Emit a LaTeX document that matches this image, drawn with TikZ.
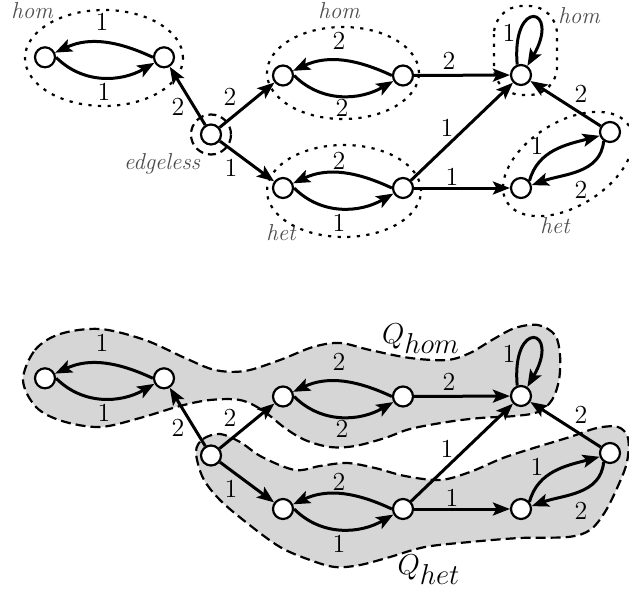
\documentclass[tikz,border=0pt]{standalone}
\usetikzlibrary{arrows.meta}
\newcommand\mygraph{%
  \node[vtx] (A) at (45,57.3) {};
  \node[vtx] (B) at (164,57.3) {};
  \node[vtx] (E) at (211,134.5) {};
  \node[vtx] (C1) at (283,75.5) {};
  \node[vtx] (C2) at (403,75.5) {};
  \node[vtx] (D1) at (283,188) {};
  \node[vtx] (D2) at (403,188) {};
  \node[vtx] (F) at (521,75) {};
  \node[vtx] (G) at (610,132) {};
  \node[vtx] (H) at (521,188) {};
  \draw[arr] (A.east) to[out=-45,in=210] (B.210);
  \draw[arr] (B.west) to[out=155,in=25] (A.25);
  \node[lbl] (lab) at (104,92) {1};
  \node[lbl] (lba) at (102,22) {1};
  \draw[arr] (E) -- (B);
  \node[lbl] (leb) at (178,107) {2};
  \draw[arr] (E) -- (C1);
  \node[lbl] (lec) at (230,97) {2};
  \draw[arr] (E) -- (D1);
  \node[lbl] (led) at (231,168) {1};
  \draw[arr] (C1.east) to[out=-45,in=210] (C2.210);
  \draw[arr] (C2.west) to[out=155,in=25] (C1.25);
  \node[lbl] (lcc1) at (339,41) {2};
  \node[lbl] (lcc2) at (342,108) {2};
  \draw[arr] (D1.east) to[out=-45,in=210] (D2.210);
  \draw[arr] (D2.west) to[out=155,in=25] (D1.25);
  \node[lbl] (ldd1) at (339,161) {2};
  \node[lbl] (ldd2) at (339,223) {1};
  \draw[arr] (C2) -- (F);
  \node[lbl] (lcf) at (449,61) {2};
  \draw[arr] (D2) -- (F);
  \node[lbl] (ldf) at (447,128) {1};
  \draw[arr] (D2) -- (H);
  \node[lbl] (ldh) at (452,177) {1};
  \draw[arr] (G) -- (F);
  \node[lbl] (lgf) at (581,94) {2};
  \draw[arr] (F.110) .. controls +(95:34pt) and +(60:34pt) .. (F.55);
  \node[lbl] (lff) at (509,33) {1};
  \draw[arr] (H.40) to[out=75,in=195] (G.200);
  \node[lbl] (lhg) at (537,146) {1};
  \draw[arr] (G.235) to[out=265,in=20] (H.15);
  \node[lbl] (lgh) at (581,190) {2};
}
\begin{document}
\begin{tikzpicture}[x=0.5pt,y=-0.5pt,
  vtx/.style={circle,draw,line width=1.1pt,fill=white,minimum size=10pt,inner sep=0pt},
  arr/.style={line width=1.5pt,-{Stealth[length=8.5pt,width=6.5pt,inset=1.8pt]}},
  lbl/.style={font=\fontsize{13}{15}\selectfont,inner sep=0pt},
  tag/.style={font=\fontsize{11.5}{13}\selectfont\itshape,text=black!70,inner sep=0pt},
  dotline/.style={line width=1.1pt,dash pattern=on 1.6pt off 3.2pt},
  edgedash/.style={line width=1.1pt,dash pattern=on 4pt off 2.5pt},
  region/.style={fill=black!16,draw=black,line width=1.1pt,dash pattern=on 5pt off 2.5pt},
  qlbl/.style={font=\fontsize{13.5}{15}\selectfont,inner sep=0pt,anchor=base},
]
\useasboundingbox (0,0) rectangle (629,590);
% ---------- top graph ----------
\begin{scope}[name prefix=t-]
  \draw[dotline] (104,58) ellipse [x radius=39.5pt, y radius=24pt];
  \draw[dotline] (343,73) ellipse [x radius=38pt, y radius=23pt];
  \draw[dotline] (344,191) ellipse [x radius=38.5pt, y radius=23pt];
  \draw[dotline,rounded corners=14pt] (494,6) rectangle (557,95);
  \draw[dotline,rotate around={32:(568,164)}] (568,164) ellipse [x radius=36pt, y radius=21pt];
  \mygraph
  \draw[edgedash] (E) circle [radius=10pt];
  \node[tag] (tag1) at (32,11) {hom};
  \node[tag] (tag2) at (339,11) {hom};
  \node[tag] (tag3) at (579,16) {hom};
  \node[tag] (tag4) at (162,164) {edgeless};
  \node[tag] (tag5) at (281,233) {het};
  \node[tag] (tag6) at (555,226) {het};
\end{scope}
% ---------- bottom graph ----------
\draw[region] plot[smooth cycle,tension=0.55] coordinates {
 (23,380) (35,350) (60,334) (100,329) (145,340) (185,358) (215,370) (245,371)
 (280,360) (313,347) (340,343) (370,350) (410,358) (447,360) (470,353) (492,340)
 (515,328) (538,325) (555,335) (560,355) (559,380) (552,400) (538,412) (515,416)
 (480,418) (447,422) (410,429) (385,438) (355,446) (330,447) (305,440) (285,428)
 (262,410) (240,400) (210,400) (180,406) (140,418) (100,427) (62,421) (36,407)};
\draw[region] plot[smooth cycle,tension=0.55] coordinates {
 (196,452) (203,439) (220,434) (240,442) (262,457) (295,470) (320,466) (347,463)
 (375,468) (405,476) (440,480) (470,472) (503,458) (537,447) (570,437) (597,428)
 (618,427) (628,438) (627,462) (618,486) (605,512) (590,530) (568,537) (520,538)
 (470,542) (425,547) (390,557) (360,565) (335,567) (310,560) (280,547) (247,523)
 (220,500) (203,478)};
\begin{scope}[name prefix=b-,shift={(0,321)}]
  \mygraph
\end{scope}
\node[qlbl] (qhom) at (421,343) {$Q_{\textstyle hom}$};
\node[qlbl] (qhet) at (429,574) {$Q_{\textstyle het}$};
\end{tikzpicture}
\end{document}
